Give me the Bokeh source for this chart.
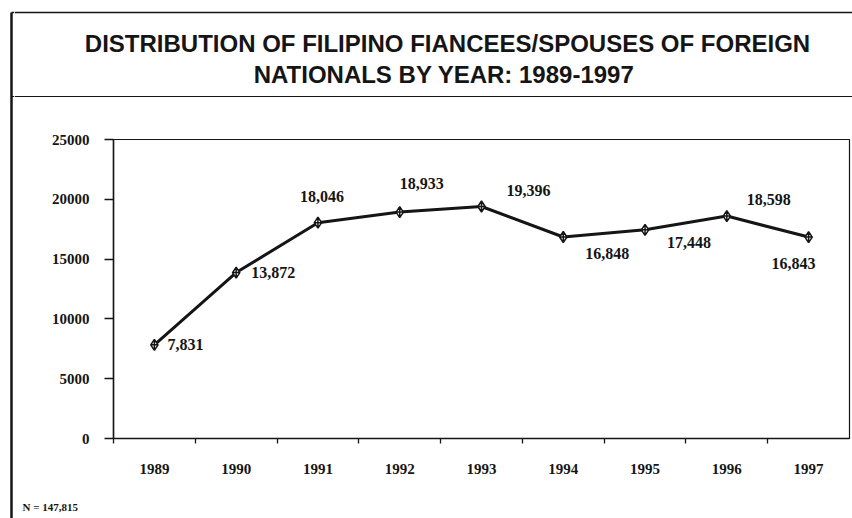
from bokeh.plotting import figure
from bokeh.layouts import column, row
from bokeh.models import Range1d, FixedTicker, Span, ColumnDataSource
from bokeh.embed import file_html
from bokeh.resources import INLINE
from bokeh.core.properties import value

# ---- data ----
years = ["1989", "1990", "1991", "1992", "1993", "1994", "1995", "1996", "1997"]
counts = [7831, 13872, 18046, 18933, 19396, 16848, 17448, 18598, 16843]
count_labels = ["7,831", "13,872", "18,046", "18,933", "19,396", "16,848", "17,448", "18,598", "16,843"]
y_ticks = [0, 5000, 10000, 15000, 20000, 25000]
title_lines = ["DISTRIBUTION OF FILIPINO FIANCEES/SPOUSES OF FOREIGN",
               "NATIONALS BY YEAR:  1989-1997"]
footnote = "N = 147,815"

# label placement (screen px, relative to point)
label_dx = [13, 15, 4, 22, 47, 44, 44, 42, -15]
label_dy = [0, 0, -26, -29, -16, 17, 13, -17, 26]
label_align = ["left", "left", "center", "center", "center", "center", "center", "center", "center"]

SERIF = value("Liberation Serif")
INK = "#151515"

def deco_fig(w, h):
    f = figure(width=w, height=h, x_range=Range1d(0, w), y_range=Range1d(h, 0),
               x_axis_type=None, y_axis_type=None, tools="", toolbar_location=None,
               output_backend="svg", min_border=0, outline_line_color=None,
               background_fill_color="white", border_fill_color="white",
               frame_align=False)
    f.grid.visible = False
    return f

# ---- left border strip ----
strip = deco_fig(14, 518)
strip.segment(x0=[11, 11, 11], y0=[12, 12, 96], x1=[11, 14, 14], y1=[518, 12, 96],
              line_color=INK, line_width=[2.5, 1.5, 1.2])

# ---- title box ----
tfig = deco_fig(838, 97)
tfig.add_layout(Span(location=12, dimension="width", line_color=INK, line_width=1.5))
tfig.add_layout(Span(location=96, dimension="width", line_color=INK, line_width=1.2))
tfig.text(x=[433, 433], y=[43, 74], text=title_lines, text_align="center",
          text_baseline="middle", text_font=value("Liberation Sans"),
          text_font_style="bold", text_font_size="24px", text_color=INK)

# ---- chart ----
n = len(years)
xs = [i + 0.5 for i in range(n)]
p = figure(width=838, height=393, x_range=Range1d(0, n), y_range=Range1d(0, 25000),
           tools="", toolbar_location=None, output_backend="svg",
           min_border_left=99, min_border_right=3, min_border_top=42, min_border_bottom=52,
           outline_line_color=INK, outline_line_width=1.2,
           background_fill_color="white", border_fill_color="white",
           frame_align=False)
p.grid.visible = False

p.yaxis.ticker = FixedTicker(ticks=y_ticks, minor_ticks=[])
p.yaxis.major_tick_out = 9
p.yaxis.major_tick_in = 0
p.yaxis.major_label_standoff = 15
p.yaxis.axis_line_width = 1.5
p.yaxis.axis_line_color = INK
p.yaxis.major_tick_line_color = INK
p.yaxis.major_tick_line_width = 1.3
p.yaxis.major_label_text_font = "Liberation Serif"
p.yaxis.major_label_text_font_style = "bold"
p.yaxis.major_label_text_font_size = "15px"
p.yaxis.major_label_text_color = INK

p.xaxis.ticker = FixedTicker(ticks=xs, minor_ticks=list(range(0, n)))
p.xaxis.major_label_overrides = {x: y for x, y in zip(xs, years)}
p.xaxis.major_tick_out = 0
p.xaxis.major_tick_in = 0
p.xaxis.major_tick_line_color = None
p.xaxis.minor_tick_out = 5
p.xaxis.minor_tick_in = 0
p.xaxis.minor_tick_line_color = INK
p.xaxis.minor_tick_line_width = 1.3
p.xaxis.axis_line_width = 1.5
p.xaxis.axis_line_color = INK
p.xaxis.major_label_standoff = 20
p.xaxis.major_label_text_font = "Liberation Serif"
p.xaxis.major_label_text_font_style = "bold"
p.xaxis.major_label_text_font_size = "15px"
p.xaxis.major_label_text_color = INK

p.line(xs, counts, line_color=INK, line_width=3)
p.scatter(xs, counts, marker="diamond_cross", size=11, fill_color="white",
          line_color=INK, line_width=1.5)

for al in ("left", "center"):
    idx = [i for i in range(n) if label_align[i] == al]
    src = ColumnDataSource(dict(x=[xs[i] for i in idx], y=[counts[i] for i in idx],
                                t=[count_labels[i] for i in idx],
                                dx=[label_dx[i] for i in idx], dy=[label_dy[i] for i in idx]))
    p.text(x="x", y="y", text="t", x_offset="dx", y_offset="dy", source=src,
           text_align=al, text_baseline="middle", text_font=SERIF,
           text_font_style="bold", text_font_size="16px", text_color=INK)

# ---- footnote ----
ffig = deco_fig(838, 28)
ffig.text(x=[8], y=[16], text=[footnote], text_align="left", text_baseline="middle",
          text_font=SERIF, text_font_style="bold", text_font_size="11px", text_color=INK)

layout = row(strip, column(tfig, p, ffig, spacing=0), spacing=0)
open("out.html", "w").write(file_html(layout, INLINE))
